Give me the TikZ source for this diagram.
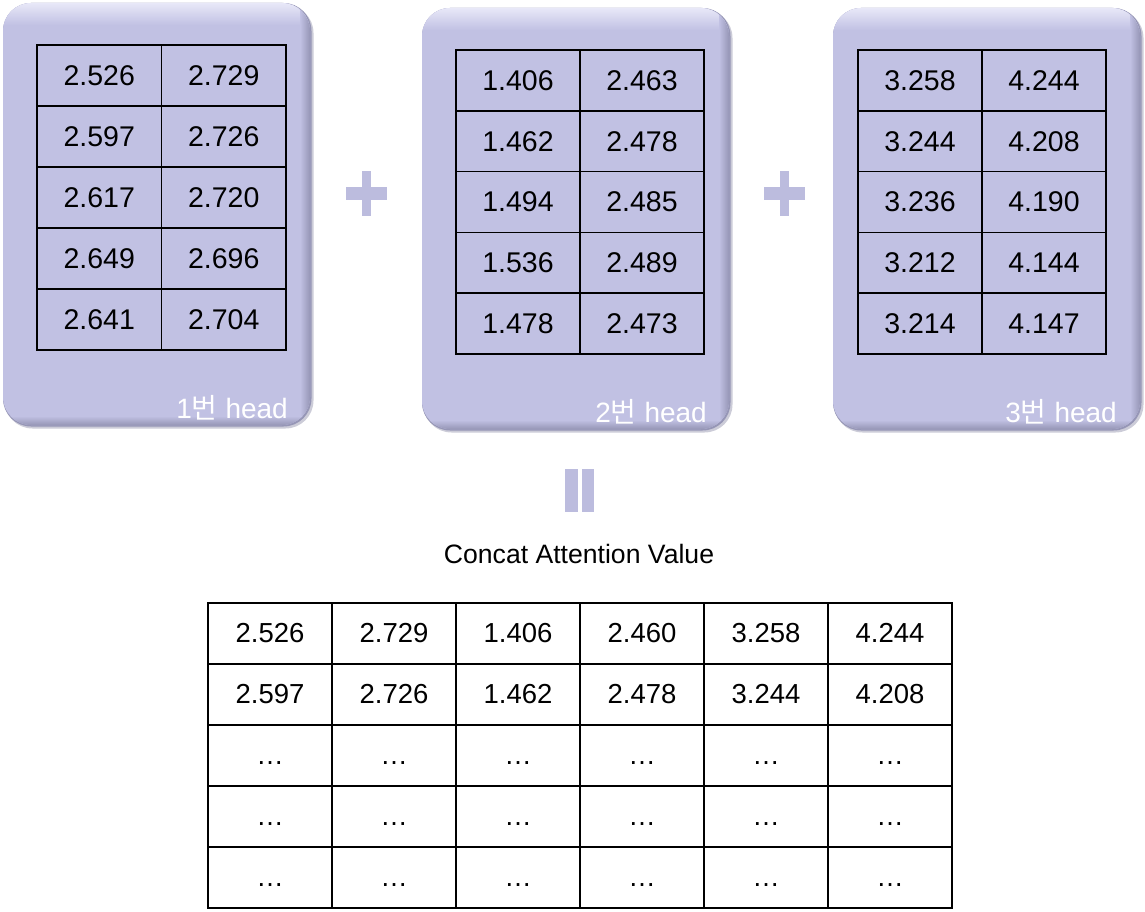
\documentclass[tikz,border=0pt]{standalone}
\usepackage{fontspec}
\setmainfont{Liberation Sans}
\newfontfamily\krfont{Noto Sans CJK KR}
\definecolor{panel}{RGB}{193,193,227}
\definecolor{panelhi}{RGB}{232,232,248}
\definecolor{paneldk}{RGB}{150,150,182}
\definecolor{shadowc}{RGB}{170,170,190}
\definecolor{signc}{RGB}{188,188,222}
\tikzset{
  panelbox/.style={fill=panel, rounded corners=28pt, inner sep=0pt},
  cellbox/.style={draw=black, line width=1.5pt, inner sep=0pt, font=\fontsize{28.5}{30}\selectfont},
  headlabel/.style={text=white, font=\fontsize{28}{30}\selectfont, anchor=base east, inner sep=0pt},
  titlelabel/.style={text=black, font=\fontsize{26.6}{28}\selectfont, inner sep=0pt},
}
\newcommand{\mypanel}[5]{% name, x1, y1, x2, y2
  \fill[shadowc, rounded corners=28pt, opacity=0.6] (#2+1.5,#3+2) rectangle (#4+3.5,#5+3.5);
  \fill[paneldk, rounded corners=28pt] (#2,#3) rectangle (#4+1.5,#5+1.5);
  \node[panelbox, minimum width={(#4-#2)*1pt}, minimum height={(#5-#3)*1pt}] (#1) at ({(#2+#4)/2},{(#3+#5)/2}) {};
  \begin{scope}
    \clip[rounded corners=28pt] (#2,#3) rectangle (#4,#5);
    \shade[top color=panelhi, bottom color=panel] (#2,#3) rectangle (#4,#3+22);
    \shade[left color=panel, right color=paneldk] (#4-10,#3) rectangle (#4,#5);
    \shade[top color=panel, bottom color=paneldk] (#2,#5-9) rectangle (#4,#5);
  \end{scope}
}
\begin{document}
\begin{tikzpicture}[x=1pt,y=-1pt]
\useasboundingbox (0,0) rectangle (1145,912);
\fill[white] (0,0) rectangle (1145,912);

% panels
\mypanel{p1}{3}{3}{310}{425}
\mypanel{p2}{422}{8}{729}{429}
\mypanel{p3}{833}{8}{1140}{429}

% table 1
\foreach \a/\b [count=\r from 0] in {2.526/2.729,2.597/2.726,2.617/2.720,2.649/2.696,2.641/2.704}{
  \node[cellbox, minimum width=124.5pt, minimum height=61pt] (ta-\r-0) at (99.25, 75.5+61*\r) {\a};
  \node[cellbox, minimum width=124.5pt, minimum height=61pt] (ta-\r-1) at (223.75, 75.5+61*\r) {\b};
}
% table 2
\foreach \a/\b [count=\r from 0] in {1.406/2.463,1.462/2.478,1.494/2.485,1.536/2.489,1.478/2.473}{
  \node[cellbox, minimum width=124pt, minimum height=60.8pt] (tb-\r-0) at (518, 80.4+60.8*\r) {\a};
  \node[cellbox, minimum width=124pt, minimum height=60.8pt] (tb-\r-1) at (642, 80.4+60.8*\r) {\b};
}
% table 3
\foreach \a/\b [count=\r from 0] in {3.258/4.244,3.244/4.208,3.236/4.190,3.212/4.144,3.214/4.147}{
  \node[cellbox, minimum width=124pt, minimum height=60.8pt] (tc-\r-0) at (920, 80.4+60.8*\r) {\a};
  \node[cellbox, minimum width=124pt, minimum height=60.8pt] (tc-\r-1) at (1044, 80.4+60.8*\r) {\b};
}

% head labels
\node[headlabel] (h1) at (288,418) {1{\krfont 번} head};
\node[headlabel] (h2) at (707,422) {2{\krfont 번} head};
\node[headlabel] (h3) at (1117,422) {3{\krfont 번} head};

% plus signs
\fill[signc] (346,187) rectangle (387,200);
\fill[signc] (362,171) rectangle (371,216);
\fill[signc] (764,187) rectangle (805,200);
\fill[signc] (780,171) rectangle (789,216);

% equals (vertical bars)
\fill[signc] (565,469) rectangle (578,512);
\fill[signc] (582,469) rectangle (594,512);

% title
\node[titlelabel] (title) at (579,554) {Concat Attention Value};

% concat table
\foreach \va/\vb/\vc/\vd/\ve/\vf [count=\r from 0] in {2.526/2.729/1.406/2.460/3.258/4.244,2.597/2.726/1.462/2.478/3.244/4.208,…/…/…/…/…/…,…/…/…/…/…/…,…/…/…/…/…/…}{
  \foreach \v [count=\k from 0] in {\va,\vb,\vc,\vd,\ve,\vf}{
    \node[cellbox, line width=1.8pt, font=\fontsize{27.5}{30}\selectfont, minimum width=124pt, minimum height=61pt] (td-\r-\k) at (270+124*\k, 633.5+61*\r) {\v\vphantom{0}};
  }
}
\end{tikzpicture}
\end{document}
